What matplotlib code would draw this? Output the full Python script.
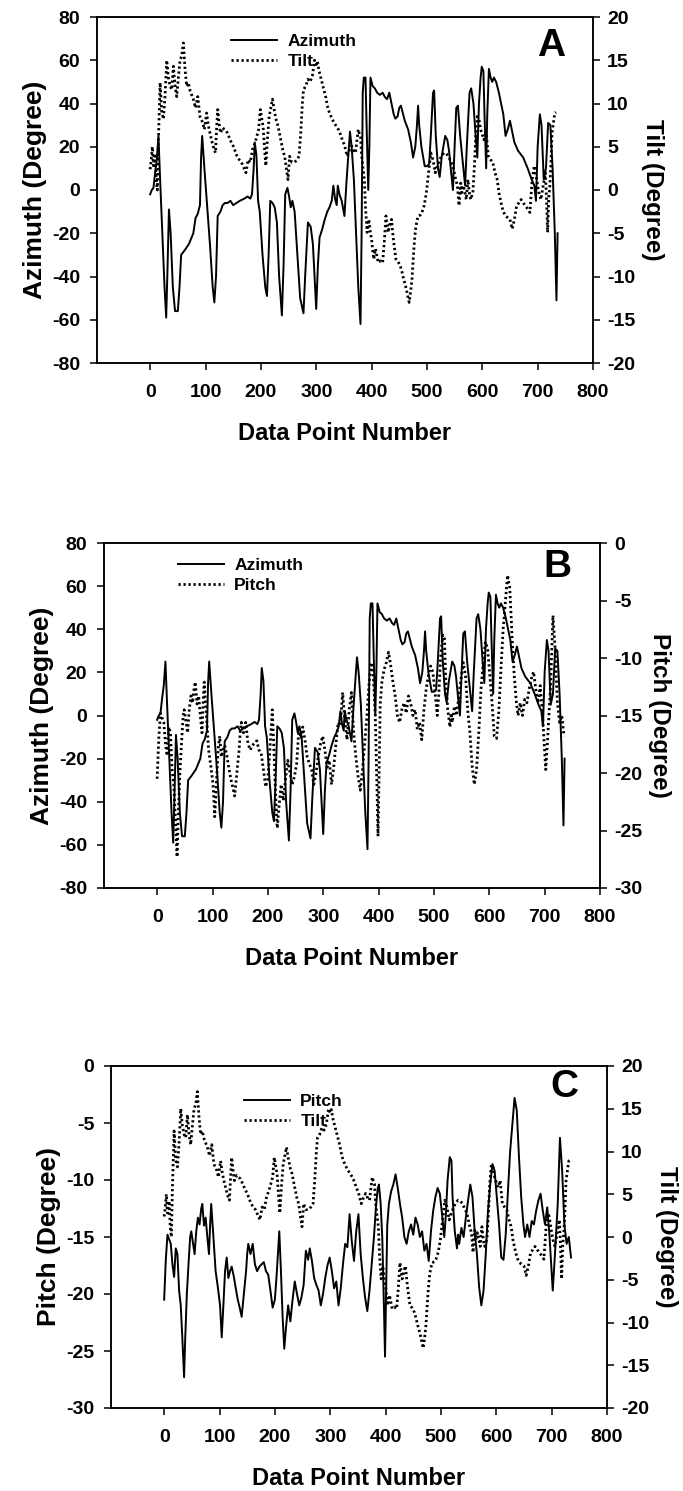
import matplotlib
matplotlib.use("Agg")
import matplotlib.pyplot as plt
from matplotlib.lines import Line2D

plt.rcParams['axes.unicode_minus'] = False

# ---------------- data ----------------
az_x = [0, 3, 6, 9, 12, 15, 18, 22, 26, 29, 31, 34, 37, 41, 45, 50, 53, 56, 62, 70, 78, 82, 86, 90, 92, 94,
        98, 102, 108, 113, 116, 119, 122, 127, 131, 135, 140, 145, 150, 156, 162, 170, 176, 181, 184, 187, 189,
        192, 195, 198, 203, 208, 211, 214, 217, 221, 225, 229, 233, 238, 241, 244, 248, 251, 254, 257, 261, 266,
        271, 277, 280, 285, 290, 294, 298, 300, 303, 306, 311, 315, 320, 324, 328, 331, 334, 337, 339, 342, 346,
        351, 355, 359, 361, 364, 368, 372, 376, 380, 382, 384, 386, 389, 391, 394, 396, 398, 402, 406, 410, 415,
        420, 424, 428, 432, 436, 440, 443, 447, 450, 453, 457, 460, 466, 471, 475, 479, 482, 484, 486, 490, 496,
        500, 504, 507, 511, 513, 516, 520, 523, 527, 533, 537, 540, 543, 547, 550, 553, 556, 560, 566, 569, 572,
        577, 580, 584, 588, 591, 594, 597, 599, 602, 604, 607, 609, 612, 615, 618, 621, 625, 630, 634, 638, 642,
        646, 650, 654, 658, 665, 674, 682, 689, 694, 697, 700, 704, 707, 711, 715, 719, 723, 727, 731, 734, 736]
az_y = [-2, 0, 1, 8, 14, 25, 5, -20, -45, -59, -40, -9, -20, -45, -56, -56, -45, -30, -28, -25, -20, -13, -11, -7,
        15, 25, 10, -4, -25, -45, -52, -40, -12, -10, -7, -6, -6, -5, -7, -6, -5, -4, -3, -4, -2, 10, 22, 16, -5,
        -10, -30, -45, -49, -30, -5, -6, -8, -15, -40, -58, -35, -2, 1, -3, -8, -5, -10, -30, -50, -57, -40, -15,
        -17, -25, -45, -55, -35, -22, -18, -14, -10, -8, -5, 2, -4, -7, 2, -2, -5, -12, 5, 20, 27, 20, 5, -20,
        -45, -62, -20, 45, 52, 52, 30, 0, 20, 52, 48, 47, 45, 44, 45, 43, 42, 45, 40, 35, 33, 34, 38, 39, 35, 32,
        28, 22, 15, 20, 30, 39, 30, 20, 11, 11, 12, 25, 45, 46, 25, 10, 6, 16, 25, 23, 18, 10, 0, 20, 38, 39, 25,
        10, 2, 20, 45, 47, 40, 25, 15, 40, 52, 57, 55, 35, 10, 35, 56, 52, 50, 52, 50, 45, 40, 35, 25, 28, 32,
        27, 22, 18, 15, 10, 5, 2, -5, 20, 35, 30, 5, 10, 31, 30, 10, -20, -51, -20]

tilt_x = [0, 2, 4, 6, 9, 11, 13, 15, 18, 21, 24, 27, 30, 33, 36, 39, 42, 45, 48, 51, 54, 57, 60, 63, 66, 69, 72,
          78, 82, 86, 90, 95, 98, 102, 105, 108, 112, 115, 118, 120, 122, 125, 127, 131, 134, 138, 142, 146, 150,
          154, 157, 161, 165, 169, 173, 177, 181, 185, 188, 191, 196, 199, 201, 204, 207, 209, 212, 215, 218, 221,
          224, 228, 231, 236, 240, 243, 246, 249, 252, 256, 261, 265, 269, 272, 275, 277, 281, 285, 289, 293, 297,
          300, 302, 305, 309, 313, 317, 321, 324, 328, 332, 336, 340, 344, 347, 351, 353, 356, 360, 364, 368, 371,
          374, 376, 378, 380, 382, 384, 387, 389, 392, 395, 398, 400, 402, 404, 407, 410, 412, 416, 420, 423, 426,
          430, 433, 436, 439, 441, 444, 448, 452, 455, 458, 461, 464, 466, 468, 471, 473, 476, 478, 480, 484, 488,
          491, 495, 499, 501, 503, 505, 507, 511, 515, 519, 523, 527, 531, 535, 539, 543, 547, 551, 555, 558, 561,
          563, 566, 569, 571, 574, 577, 579, 583, 586, 588, 591, 594, 597, 599, 603, 607, 611, 615, 619, 623, 627,
          630, 635, 638, 642, 646, 650, 654, 658, 662, 666, 670, 674, 678, 682, 686, 690, 694, 697, 700, 703, 706,
          710, 714, 716, 718, 720, 722, 724, 726, 729, 731, 733]
tilt_y = [2.4, 3.5, 5, 2.8, 4.2, 1.2, 0, 5.8, 12.4, 9, 8.2, 11, 15, 13, 12, 11.6, 14.3, 12, 10.8, 13, 15, 15.5, 17,
          14, 12, 12.4, 11.5, 10.5, 9.5, 10.8, 8.5, 7.8, 7, 8.9, 7.5, 6.6, 5.5, 4.8, 4.3, 7, 9.3, 7.5, 6.6, 7.2, 7,
          6.8, 6.2, 5.6, 5.1, 4.4, 3.9, 3.5, 3.2, 2.6, 2, 3.5, 3.2, 4.7, 5.2, 5.8, 7, 9.3, 8.5, 7.4, 4.5, 2.8, 6,
          8.5, 9.5, 10.5, 9.3, 8, 7.4, 5.8, 4.5, 3.9, 2.5, 1.2, 3.9, 3.2, 3.2, 3.5, 3.9, 6.6, 10, 11.6, 12, 12.8,
          12.5, 13.2, 15, 14.5, 14.9, 13.8, 12.8, 11.8, 10.8, 9.5, 8.9, 8.3, 7.8, 7.4, 7, 6.4, 5.8, 5.2, 4.7, 3.9,
          4.6, 5.1, 4.5, 4.3, 6, 7, 6.5, 6.2, 4, 2.8, 1.2, -2, -4.9, -3.4, -5, -5.7, -7, -8, -6.8, -7.8, -8.4, -8.2,
          -8.4, -6, -3, -4.9, -4, -3.4, -5.5, -6.5, -8, -8.3, -8.8, -9.5, -10.3, -11, -11.8, -12.5, -13, -11.5,
          -10.3, -7.2, -5.5, -4.2, -3, -2.9, -2.6, -1.8, -0.3, 0.8, 2, 3.2, 4.3, 3.5, 2, 2.8, 3.5, 4, 4.3, 4.2, 3.9,
          3.3, 2.8, 1.5, 0.5, -1.8, 0.8, -0.3, 0.5, -0.5, -1.1, 1.2, -0.5, -1.1, -0.3, 3, 6, 8.5, 8.2, 7, 6.6, 5.8,
          6.6, 3.9, 3.5, 3.2, 2, 1.2, -0.3, -1.8, -2.5, -3, -3.2, -3.4, -4.5, -3.4, -1.8, -1.5, -1.1, -1.5, -1.8,
          -2.2, -2.6, 1.2, 2.8, 1.8, 0.5, -0.5, -1.1, 0.5, 2, -1, -4.9, -1, 0.5, 3, 6.6, 8, 8.9, 9]

pitch_x = [0, 3, 6, 9, 12, 15, 18, 21, 24, 27, 30, 33, 36, 38, 41, 44, 47, 49, 52, 55, 58, 61, 64, 67, 69, 72, 75,
           78, 81, 83, 85, 87, 89, 91, 93, 97, 101, 104, 107, 110, 113, 116, 119, 122, 126, 129, 133, 137, 140,
           144, 148, 150, 152, 156, 160, 164, 168, 172, 176, 180, 184, 188, 192, 196, 200, 203, 206, 208, 211, 214,
           217, 220, 224, 228, 232, 236, 240, 244, 248, 252, 256, 260, 263, 267, 271, 275, 279, 283, 287, 291, 295,
           299, 303, 307, 311, 315, 319, 323, 327, 331, 335, 339, 343, 347, 351, 355, 359, 363, 367, 371, 375, 379,
           383, 386, 388, 391, 394, 397, 399, 401, 403, 406, 410, 414, 418, 422, 426, 430, 434, 438, 442, 446, 450,
           454, 458, 462, 466, 470, 474, 478, 482, 486, 490, 494, 498, 502, 506, 509, 512, 516, 519, 521, 525, 529,
           531, 533, 537, 541, 545, 549, 553, 557, 561, 565, 569, 573, 577, 581, 585, 589, 593, 597, 601, 605, 609,
           613, 617, 621, 625, 629, 633, 637, 641, 645, 649, 652, 656, 660, 664, 668, 672, 676, 680, 684, 688, 692,
           696, 700, 702, 706, 711, 715, 719, 723, 727, 731, 735]
pitch_y = [-20.5, -17, -14.8, -15.2, -15.6, -17.4, -18.5, -16, -16.5, -19.7, -21, -24, -27.3, -24, -20, -17.4,
           -15, -14.5, -15.5, -16.5, -14.5, -13.3, -13.9, -12.5, -12.1, -14, -13.3, -15, -16.5, -14, -12.1, -13.5,
           -15, -16.5, -18, -19.4, -21, -23.8, -21, -18, -16.8, -18.6, -18, -17.6, -18.5, -19.4, -20.5, -21.3, -22,
           -20, -18, -16.5, -15.6, -16.5, -15.6, -17.4, -18, -17.6, -17.4, -17.2, -18, -18.3, -19.7, -21.2, -20.5,
           -18.5, -16, -14.5, -18, -22, -24.8, -23, -21, -22.4, -20.5, -18.9, -20, -21, -20.3, -19.2, -16.2, -17,
           -16, -17.1, -18.6, -19.2, -19.7, -21, -20, -18.6, -17.5, -16.8, -18, -19.5, -18.9, -21, -19.5, -17.4,
           -15.6, -15.9, -13, -15.4, -17.1, -14.5, -13, -16.5, -18.6, -20.3, -21.5, -19.7, -17.4, -15, -12.1,
           -10.7, -10.4, -12, -15, -21, -25.5, -20, -14, -12.1, -11, -10.4, -9.5, -10.7, -12.1, -13.3, -15, -15.6,
           -14.5, -13.9, -14.8, -13.3, -13.9, -15, -14.5, -16.2, -15.6, -17.1, -14.5, -12.7, -11.5, -10.7, -11.2,
           -13, -15, -13, -10, -8, -8.3, -11.5, -14.5, -16, -14.8, -15.6, -14.2, -15, -13.3, -11.8, -10.4, -11.5,
           -14.5, -16.5, -19.4, -21, -19.7, -16.5, -12.7, -10.4, -8.6, -9.2, -11.5, -13.9, -16.8, -17, -14.8, -11,
           -7.5, -5.1, -2.8, -3.9, -8, -11.5, -13.9, -15, -13.9, -15, -13.6, -13.9, -12.7, -11.8, -11.2, -12.7,
           -13.9, -12.4, -14.8, -18, -19.7, -16.5, -12.1, -6.3, -9.2, -13.9, -15.6, -15, -16.8]

x_ticks = [0, 100, 200, 300, 400, 500, 600, 700, 800]
az_ticks = [-80, -60, -40, -20, 0, 20, 40, 60, 80]
tilt_ticks = [-20, -15, -10, -5, 0, 5, 10, 15, 20]
pitch_ticks = [-30, -25, -20, -15, -10, -5, 0]

# ---------------- style ----------------
FONT = ['Liberation Sans', 'DejaVu Sans']
SOLID = dict(color='black', lw=1.4, ls='-')
DOTTED = dict(color='black', lw=2.0, ls=(0, (0.8, 1.0)))

fig = plt.figure(figsize=(6.83, 14.91), dpi=100)
W, H = 683.0, 1491.0


def make_axes(left, right, top, bottom):
    return fig.add_axes([left / W, 1 - bottom / H, (right - left) / W, (bottom - top) / H])


def style_axes(ax, ax2, lticks, rticks, llab, rlab, lylim, rylim):
    ax.set_xlim(-96, 800)
    ax.set_ylim(*lylim)
    ax2.set_ylim(*rylim)
    ax.set_xticks(x_ticks)
    ax.set_yticks(lticks)
    ax2.set_yticks(rticks)
    for a in (ax, ax2):
        for s in a.spines.values():
            s.set_linewidth(1.1)
    ax.tick_params(axis='x', direction='out', length=5, width=1.1, top=False, pad=10)
    ax.tick_params(axis='y', direction='out', length=5, width=1.1, right=False, pad=7)
    ax2.tick_params(axis='y', direction='out', length=5, width=1.1, pad=5)
    for lab in ax.get_xticklabels() + ax.get_yticklabels() + ax2.get_yticklabels():
        lab.set_fontfamily(FONT)
        lab.set_fontweight('bold')
        lab.set_fontsize(14)
    ax.set_xlabel('Data Point Number', fontfamily=FONT, fontweight='bold', fontsize=17, labelpad=15)
    ax.set_ylabel(llab, fontfamily=FONT, fontweight='bold', fontsize=19, labelpad=4)
    ax2.set_ylabel(rlab, fontfamily=FONT, fontweight='bold', fontsize=17.5, rotation=270,
                   va='bottom', labelpad=4)


def legend(ax, names, anchor):
    handles = [Line2D([], [], **SOLID), Line2D([], [], **DOTTED)]
    ax.legend(handles, names, loc='upper left', bbox_to_anchor=anchor, frameon=False,
              handlelength=2.65, handletextpad=0.6, labelspacing=0.28, borderaxespad=0, borderpad=0,
              prop=dict(family=FONT, weight='bold', size=12.5))


def letter(ax, s, x, y):
    ax.text(x, y, s, transform=ax.transAxes, ha='center', va='center', fontsize=28,
            fontweight='bold', fontfamily=FONT)


# ---------------- Panel A ----------------
axA = make_axes(97, 593, 17, 363)
axA2 = axA.twinx()
axA.plot(az_x, az_y, **SOLID)
axA2.plot(tilt_x, tilt_y, **DOTTED)
style_axes(axA, axA2, az_ticks, tilt_ticks, 'Azimuth (Degree)', 'Tilt (Degree)', (-80, 80), (-20, 20))
legend(axA, ['Azimuth', 'Tilt'], (0.27, 0.952))
letter(axA, 'A', 0.915, 0.916)

# ---------------- Panel B ----------------
axB = make_axes(104, 600, 543, 888)
axB2 = axB.twinx()
axB.plot(az_x, az_y, **SOLID)
axB2.plot(pitch_x, pitch_y, **DOTTED)
style_axes(axB, axB2, az_ticks, pitch_ticks, 'Azimuth (Degree)', 'Pitch (Degree)', (-80, 80), (-30, 0))
legend(axB, ['Azimuth', 'Pitch'], (0.149, 0.958))
letter(axB, 'B', 0.915, 0.93)

# ---------------- Panel C ----------------
axC = make_axes(111, 607, 1066, 1408)
axC2 = axC.twinx()
axC.plot(pitch_x, pitch_y, **SOLID)
axC2.plot(tilt_x, tilt_y, **DOTTED)
style_axes(axC, axC2, pitch_ticks, tilt_ticks, 'Pitch (Degree)', 'Tilt (Degree)', (-30, 0), (-20, 20))
legend(axC, ['Pitch', 'Tilt'], (0.268, 0.918))
letter(axC, 'C', 0.915, 0.939)

fig.savefig('out.png', dpi=100)
